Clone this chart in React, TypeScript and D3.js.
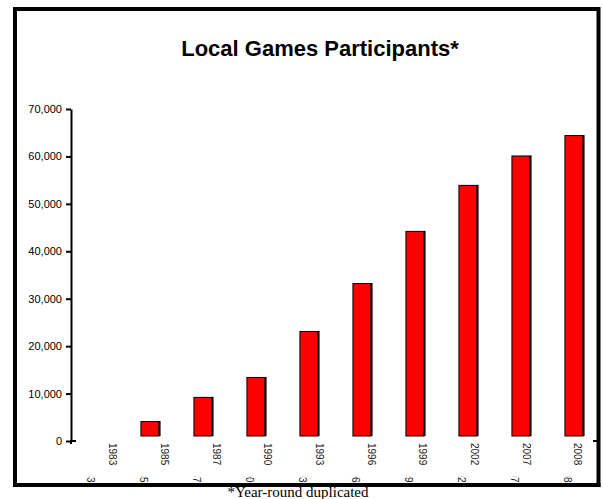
import React, { useEffect, useRef } from 'react';
import * as d3 from 'd3';

const years = ["1983", "1985", "1987", "1990", "1993", "1996", "1999", "2002", "2007", "2008"];
const participants = [0, 4200, 9300, 13500, 23200, 33300, 44300, 54000, 60200, 64500];
const yTicks = [0, 10000, 20000, 30000, 40000, 50000, 60000, 70000];

const W = 603;
const H = 499;

const App: React.FC = () => {
  const svgRef = useRef<SVGSVGElement>(null);

  useEffect(() => {
    if (!svgRef.current) return;
    const svg = d3.select(svgRef.current);
    svg.selectAll("*").remove();

    const axisFont = "'Liberation Sans', Arial, sans-serif";

    const y = d3.scaleLinear().domain([0, 70000]).range([441, 109]);
    const x = d3.scaleBand<string>()
      .domain(years)
      .range([71, 601])
      .paddingInner(0.62)
      .paddingOuter(0.31);
    // the category labels drift a little from the bars in the original
    const xLabel = d3.scalePoint<string>().domain(years).range([113, 578]);

    // outer frame
    svg.append("rect")
      .attr("x", 15).attr("y", 9)
      .attr("width", 583.5).attr("height", 476)
      .attr("fill", "white")
      .attr("stroke", "black")
      .attr("stroke-width", 4);

    // title
    svg.append("text")
      .attr("x", 320).attr("y", 56)
      .attr("text-anchor", "middle")
      .style("font-family", axisFont)
      .style("font-size", "22px")
      .style("font-weight", "700")
      .text("Local Games Participants*");

    // bars
    const base = y(0) - 5;
    const bars = svg.append("g");
    years.forEach((yr, i) => {
      const v = participants[i];
      const top = y(v);
      const h = base - top;
      if (h <= 0) return;
      const bx = x(yr)!;
      const bw = x.bandwidth();
      bars.append("rect")
        .attr("x", bx + 0.5).attr("y", top + 0.5)
        .attr("width", bw - 2).attr("height", h - 0.5)
        .attr("fill", "#ff0000")
        .attr("stroke", "black")
        .attr("stroke-width", 1);
      bars.append("rect")
        .attr("x", bx + bw - 2).attr("y", top)
        .attr("width", 2).attr("height", h)
        .attr("fill", "black");
    });

    // y axis
    const yAxis = d3.axisLeft(y)
      .tickValues(yTicks)
      .tickSize(5)
      .tickSizeOuter(0)
      .tickPadding(4)
      .tickFormat(d => d3.format(",")(d as number));
    const gy = svg.append("g")
      .attr("transform", "translate(71,0)")
      .call(yAxis);
    gy.select(".domain").attr("stroke-width", 2);
    gy.selectAll(".tick line").attr("stroke-width", 2);
    gy.selectAll(".tick text")
      .style("font-family", axisFont)
      .style("font-size", "11px")
      .attr("fill", "#000");

    // x axis end ticks (axis line itself is not drawn)
    const [x0, x1] = x.range();
    svg.append("path")
      .attr("d", `M${x0},${y(0)}H${x0 + 5}M${x0},${y(0) - 1}V${y(0) + 3}M${x1 - 8},${y(0)}H${x1 - 1}`)
      .attr("stroke", "black")
      .attr("stroke-width", 2)
      .attr("fill", "none");

    // category labels, rotated
    svg.append("g").selectAll("text")
      .data(years)
      .join("text")
      .attr("transform", d => `translate(${xLabel(d)! - 3.6},443) rotate(90)`)
      .style("font-family", axisFont)
      .style("font-size", "10px")
      .attr("fill", "#222")
      .text(d => d);

    // duplicated labels clipped by the frame
    const defs = svg.append("defs");
    defs.append("clipPath").attr("id", "dupClip")
      .append("rect").attr("x", 0).attr("y", 476.5).attr("width", W).attr("height", 7);
    svg.append("g")
      .attr("clip-path", "url(#dupClip)")
      .selectAll("text")
      .data(years)
      .join("text")
      .attr("transform", d => `translate(${x(d)! + x.bandwidth() / 2 - 7 - 3.6},482.5) rotate(90)`)
      .attr("text-anchor", "end")
      .style("font-family", axisFont)
      .style("font-size", "10px")
      .attr("fill", "#222")
      .text(d => d);

    // redraw bottom frame edge over the clipped labels
    svg.append("line")
      .attr("x1", 13).attr("x2", 600.5)
      .attr("y1", 485).attr("y2", 485)
      .attr("stroke", "black").attr("stroke-width", 4);

    // footnote
    svg.append("text")
      .attr("x", 298).attr("y", 497)
      .attr("text-anchor", "middle")
      .style("font-family", "'Liberation Serif', 'Times New Roman', serif")
      .style("font-size", "15px")
      .text("*Year-round duplicated");
  }, []);

  return (
    <svg
      ref={svgRef}
      width={W}
      height={H}
      style={{ position: "absolute", left: 0, top: 0, background: "white" }}
    />
  );
};

export default App;
